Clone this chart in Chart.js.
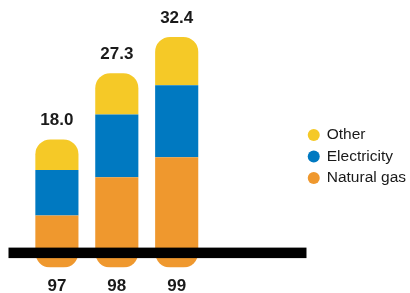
<!DOCTYPE html>
<html>
<head>
<meta charset="utf-8">
<script src="https://cdn.jsdelivr.net/npm/chart.js@4"></script>
<style>
html,body{margin:0;padding:0;background:#fff;}
#wrap{width:410px;height:293px;position:relative;}
</style>
</head>
<body>
<div id="wrap"><canvas id="c" width="410" height="293"></canvas></div>
<script>
const categories = ['97', '98', '99'];
const naturalGas = [7.3, 12.7, 15.5];
const electricity = [6.4, 8.8, 10.1];
const other = [4.3, 5.8, 6.8];
const totals = ['18.0', '27.3', '32.4'];
const seriesNames = ['Natural gas', 'Electricity', 'Other'];

const colors = {gas: '#EF982E', elec: '#0079C1', other: '#F5C927'};
const R = 15;

const pts = arr => arr.map((v, i) => ({x: Number(categories[i]), y: v}));

const totalLabels = {
  id: 'totalLabels',
  afterDatasetsDraw(chart) {
    const ctx = chart.ctx;
    const meta = chart.getDatasetMeta(2);
    ctx.save();
    ctx.font = 'bold 17px "Liberation Sans", Arial, sans-serif';
    ctx.fillStyle = '#1a1a1a';
    ctx.textAlign = 'center';
    ctx.textBaseline = 'middle';
    meta.data.forEach((bar, i) => {
      ctx.fillText(totals[i], bar.x, bar.y - 19);
    });
    ctx.restore();
  }
};

const baseLine = {
  id: 'baseLine',
  afterDatasetsDraw(chart) {
    const ctx = chart.ctx;
    const y0 = chart.scales.y.getPixelForValue(0);
    const x0 = chart.chartArea.left + 8.5;
    const x1 = chart.legend.left + 4;
    ctx.save();
    ctx.fillStyle = '#000';
    ctx.fillRect(x0, y0 - 20, x1 - x0, 10.5);
    ctx.restore();
  }
};

new Chart(document.getElementById('c'), {
  type: 'bar',
  data: {
    datasets: [
      {label: seriesNames[0], data: pts(naturalGas), backgroundColor: colors.gas, borderSkipped: false,
       borderRadius: {topLeft: 0, topRight: 0, bottomLeft: R, bottomRight: R}},
      {label: seriesNames[1], data: pts(electricity), backgroundColor: colors.elec, borderSkipped: false,
       borderRadius: 0},
      {label: seriesNames[2], data: pts(other), backgroundColor: colors.other, borderSkipped: false,
       borderRadius: {topLeft: R, topRight: R, bottomLeft: 0, bottomRight: 0}}
    ]
  },
  options: {
    responsive: false,
    animation: false,
    layout: {padding: {top: 7, left: 0, right: -6, bottom: -13}},
    scales: {
      x: {
        type: 'linear',
        stacked: true,
        offset: false,
        min: 96.05,
        max: 101.1,
        grid: {display: false, drawTicks: false},
        border: {display: false},
        afterBuildTicks(scale) {
          scale.ticks = categories.map(c => ({value: Number(c)}));
        },
        ticks: {
          padding: 9,
          color: '#1a1a1a',
          font: {family: '"Liberation Sans", Arial, sans-serif', size: 17, weight: 'bold'},
          callback: v => String(v)
        }
      },
      y: {
        stacked: true,
        display: false,
        min: 0,
        max: 36.6
      }
    },
    plugins: {
      legend: {
        position: 'right',
        reverse: true,
        labels: {
          usePointStyle: true,
          pointStyle: 'circle',
          boxWidth: 10.5,
          boxHeight: 8.5,
          padding: 6,
          color: '#1a1a1a',
          font: {family: '"Liberation Sans", Arial, sans-serif', size: 15.5}
        }
      },
      tooltip: {enabled: false}
    }
  },
  plugins: [totalLabels, baseLine]
});
</script>
</body>
</html>
